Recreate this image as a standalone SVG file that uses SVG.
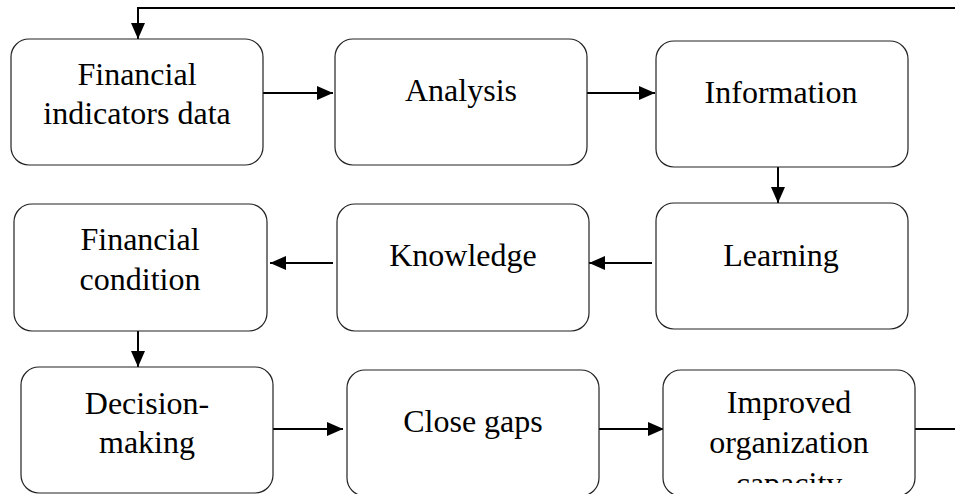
<svg xmlns="http://www.w3.org/2000/svg" width="955" height="494" viewBox="0 0 955 494">
<style>
.box{fill:#fff;stroke:#222;stroke-width:1.2}
.t{font-family:'Liberation Serif','Times New Roman',serif;font-size:32px;fill:#000;text-anchor:middle}
.c{fill:none;stroke:#000;stroke-width:2}
.a{marker-end:url(#arr)}
</style>
<defs>
<marker id="arr" markerUnits="userSpaceOnUse" markerWidth="16" markerHeight="14" refX="16" refY="7" orient="auto">
<path d="M0,0 L16,7 L0,14 z" fill="#000"/>
</marker>
<clipPath id="clipImp"><rect x="663" y="370" width="252" height="113"/></clipPath>
</defs>
<rect width="955" height="494" fill="#fff"/>
<g id="connectors">
<polyline class="c a" points="955,8 138,8 138,39"/>
<line class="c a" x1="263" y1="93" x2="333" y2="93"/>
<line class="c a" x1="586" y1="93" x2="655" y2="93"/>
<line class="c a" x1="778" y1="167" x2="778" y2="203"/>
<line class="c a" x1="652" y1="263" x2="589" y2="263"/>
<line class="c a" x1="333" y1="263" x2="270" y2="263"/>
<line class="c a" x1="138" y1="331" x2="138" y2="367"/>
<line class="c a" x1="273" y1="429" x2="343" y2="429"/>
<line class="c a" x1="596" y1="429" x2="664" y2="429"/>
<line class="c" x1="915" y1="429" x2="955" y2="429"/>
</g>
<g id="n1">
<rect class="box" x="11" y="39" width="252" height="126" rx="18"/>
<text class="t" x="137" y="85">Financial</text>
<text class="t" x="137" y="124">indicators data</text>
</g>
<g id="n2">
<rect class="box" x="335" y="39" width="252" height="126" rx="18"/>
<text class="t" x="461" y="101">Analysis</text>
</g>
<g id="n3">
<rect class="box" x="656" y="41" width="252" height="126" rx="18"/>
<text class="t" x="781" y="103">Information</text>
</g>
<g id="n4">
<rect class="box" x="656" y="203" width="252" height="126" rx="18"/>
<text class="t" x="781" y="266">Learning</text>
</g>
<g id="n5">
<rect class="box" x="337" y="204" width="252" height="127" rx="18"/>
<text class="t" x="463" y="266">Knowledge</text>
</g>
<g id="n6">
<rect class="box" x="14" y="204" width="253" height="127" rx="18"/>
<text class="t" x="140" y="250">Financial</text>
<text class="t" x="140" y="290">condition</text>
</g>
<g id="n7">
<rect class="box" x="21" y="367" width="252" height="126" rx="18"/>
<text class="t" x="147" y="414">Decision-</text>
<text class="t" x="147" y="453">making</text>
</g>
<g id="n8">
<rect class="box" x="347" y="370" width="252" height="126" rx="18"/>
<text class="t" x="473" y="432">Close gaps</text>
</g>
<g id="n9">
<rect class="box" x="663" y="370" width="252" height="126" rx="18"/>
<g clip-path="url(#clipImp)">
<text class="t" x="789" y="413">Improved</text>
<text class="t" x="789" y="453">organization</text>
<text class="t" x="789" y="494">capacity</text>
</g>
</g>
</svg>
